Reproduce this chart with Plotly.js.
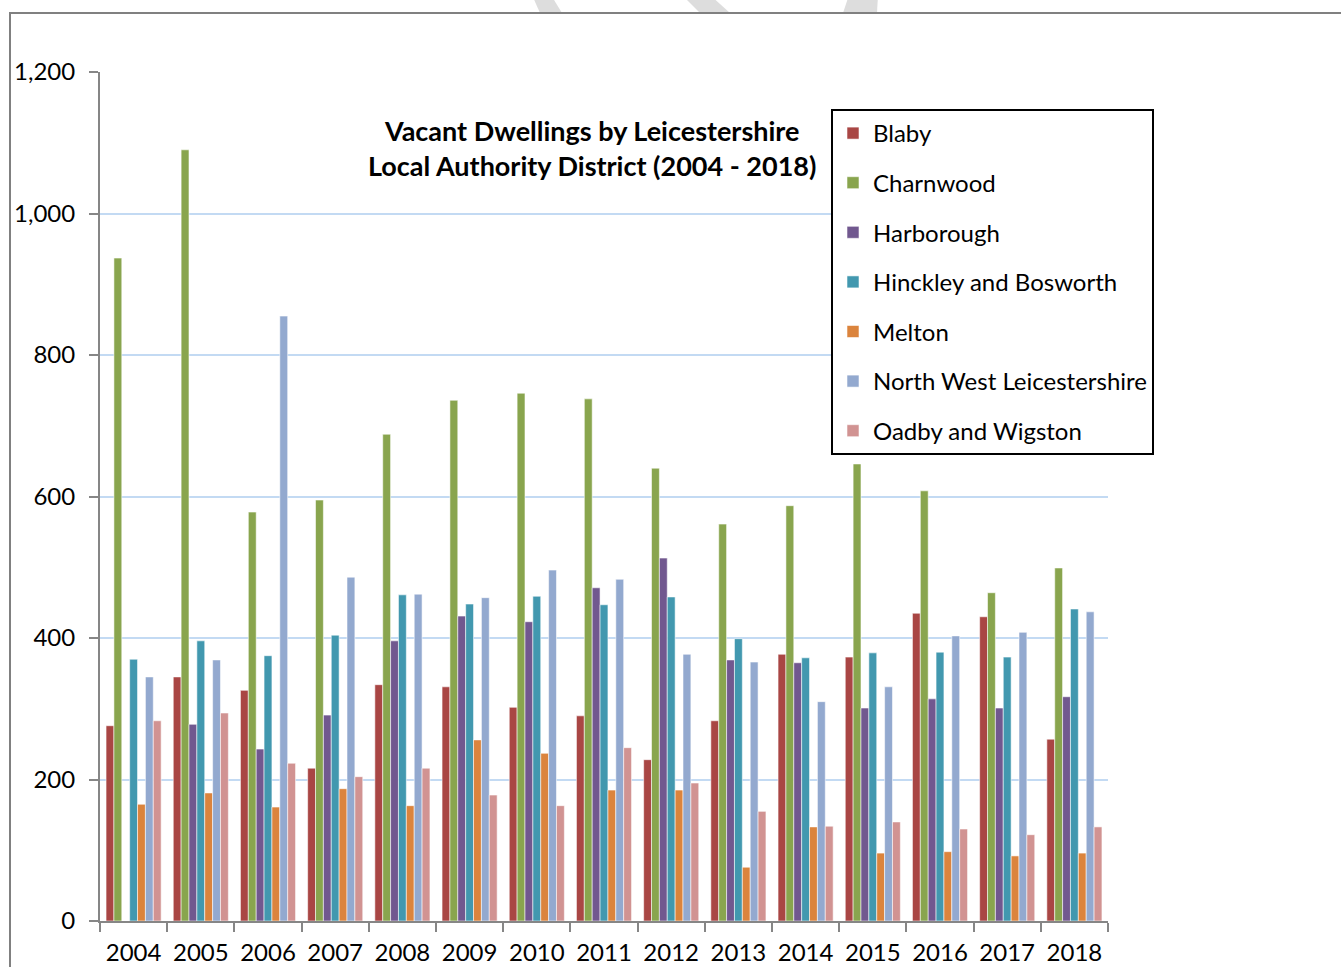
<!DOCTYPE html>
<html>
<head>
<meta charset="utf-8">
<script src="https://cdn.plot.ly/plotly-3.0.1.min.js"></script>
<style>html,body{margin:0;padding:0;background:#fff;}#chart{width:1341px;height:967px;}</style>
</head>
<body>
<div id="chart"></div>
<script>
const years = ["2004","2005","2006","2007","2008","2009","2010","2011","2012","2013","2014","2015","2016","2017","2018"];
const blaby = [276,345,326,216,334,331,302,290,228,283,377,373,435,430,257];
const charnwood = [937,1090,578,595,688,736,746,738,640,561,587,646,608,464,499];
const harborough = [null,278,243,291,396,431,423,471,513,369,365,301,314,301,317];
const hinckley = [370,396,375,404,461,448,459,447,458,399,372,379,380,373,441];
const melton = [165,181,161,187,163,256,237,185,185,76,133,96,98,92,96];
const nwl = [345,369,855,486,462,457,496,483,377,366,310,331,403,408,437];
const oadby = [283,294,223,204,216,178,163,245,195,155,134,140,130,122,133];

const seriesNames = ["Blaby","Charnwood","Harborough","Hinckley and Bosworth","Melton","North West Leicestershire","Oadby and Wigston"];
const seriesValues = [blaby,charnwood,harborough,hinckley,melton,nwl,oadby];
const seriesColors = ["#A94644","#89A54E","#71588F","#4298AF","#DB843D","#93A9CF","#D19392"];

const FONT = "Lato, 'Open Sans', sans-serif";

const traces = seriesNames.map((n,i)=>({
  type:"bar", name:n, x:years, y:seriesValues[i], legendgroup:"g"+i,
  marker:{color:seriesColors[i], line:{color:"rgba(255,255,255,0.55)", width:1}},
  hoverinfo:"x+y+name"
}));

// pixel helpers for decorative shapes (plot area: x 100..1108, y 72..921)
const px = v => (v-100)/1008;
const py = v => (921-v)/849;
function poly(pts){ return "M" + pts.map(p=>px(p[0])+","+py(p[1])).join(" L") + " Z"; }

const layout = {
  width:1341, height:967,
  margin:{l:100, r:233, t:72, b:46},
  paper_bgcolor:"#fff", plot_bgcolor:"#fff",
  font:{family:FONT, size:24, color:"#000"},
  barmode:"group", bargap:0.18, bargroupgap:0,
  showlegend:true,
  legend:{
    x:px(831), y:py(109), xanchor:"left", yanchor:"top",
    bordercolor:"#000", borderwidth:2, bgcolor:"#fff",
    font:{family:FONT, size:24, color:"#000"},
    traceorder:"grouped", tracegroupgap:15.4, itemwidth:30
  },
  xaxis:{
    type:"category", tickson:"boundaries", ticks:"outside", ticklen:9, tickwidth:2, tickcolor:"#868686",
    showline:true, linecolor:"#868686", linewidth:2, showgrid:false, zeroline:false,
    tickfont:{family:FONT, size:24, color:"#000"}, ticklabelstandoff:9
  },
  yaxis:{
    range:[0,1200], dtick:200, tickformat:",d", ticks:"outside", ticklen:9, tickwidth:2, tickcolor:"#868686",
    showline:true, linecolor:"#868686", linewidth:2,
    showgrid:true, gridcolor:"#C3DAF3", gridwidth:2, zeroline:false,
    tickfont:{family:FONT, size:24, color:"#000"}, ticklabelstandoff:9
  },
  annotations:[{
    xref:"paper", yref:"paper", x:px(592), y:py(148), xanchor:"center", yanchor:"middle",
    text:"<b>Vacant Dwellings by Leicestershire<br>Local Authority District (2004 - 2018)</b>",
    showarrow:false, align:"center", font:{family:FONT, size:27, color:"#000"}
  }],
  shapes:[
    {type:"path", xref:"paper", yref:"paper", path:poly([[532,-5],[551,-5],[562,13],[540,13]]), fillcolor:"#DDDDDD", line:{width:0}, layer:"below"},
    {type:"path", xref:"paper", yref:"paper", path:poly([[682,-5],[710,-5],[730,13],[700,13]]), fillcolor:"#DDDDDD", line:{width:0}, layer:"below"},
    {type:"path", xref:"paper", yref:"paper", path:poly([[849,-5],[878,-5],[877,13],[843,13]]), fillcolor:"#DDDDDD", line:{width:0}, layer:"below"},
    {type:"rect", xref:"paper", yref:"paper", x0:px(10), x1:px(1360), y0:py(990), y1:py(13), line:{color:"#808080", width:2}, fillcolor:"rgba(0,0,0,0)", layer:"below"}
  ]
};

Plotly.newPlot("chart", traces, layout, {displayModeBar:false, responsive:false});
</script>
</body>
</html>
